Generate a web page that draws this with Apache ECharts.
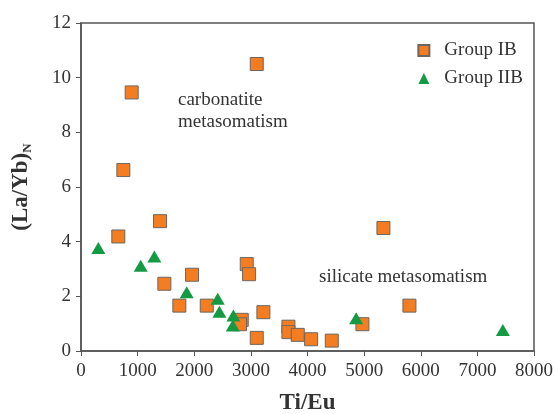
<!DOCTYPE html>
<html>
<head>
<meta charset="utf-8">
<script src="https://cdn.jsdelivr.net/npm/echarts@6/dist/echarts.min.js"></script>
<style>
  html, body { margin: 0; padding: 0; background: #fff; }
  #chart { width: 555px; height: 414px; }
</style>
</head>
<body>
<div id="chart"></div>
<script>
// Ti/Eu versus chondrite-normalised (La/Yb) for two xenolith groups
const groupIB = [
  [659, 4.19], [1396, 4.75], [1472, 2.46], [1961, 2.79], [1737, 1.66],
  [2221, 1.66], [2927, 3.18], [2968, 2.81], [3221, 1.42], [2839, 1.14],
  [2809, 0.98], [3104, 0.48], [3663, 0.89], [3663, 0.69], [3828, 0.59],
  [4064, 0.43], [4429, 0.38], [4970, 0.98], [5341, 4.50], [5800, 1.66],
  [895, 9.46], [748, 6.62], [3104, 10.50]
];
const groupIIB = [
  [306, 3.77], [1054, 3.12], [1296, 3.46], [1867, 2.15], [2415, 1.91],
  [2444, 1.44], [2691, 1.30], [2680, 0.93], [4859, 1.20], [7450, 0.77]
];
const xTicks = { min: 0, max: 8000, interval: 1000 };
const yTicks = { min: 0, max: 12, interval: 2 };

const serif = '"Liberation Serif", "DejaVu Serif", serif';
const frame = '#555';
const ink = '#333';

const chart = echarts.init(document.getElementById('chart'));
chart.setOption({
  backgroundColor: '#fff',
  animation: false,
  grid: {
    left: 81, right: 21, top: 23, bottom: 63,
    containLabel: false, outerBoundsMode: 'none',
    show: true, borderColor: frame, borderWidth: 1.5
  },
  legend: {
    orient: 'vertical', right: 27, top: 36, itemGap: 9,
    itemWidth: 11, itemHeight: 11,
    textStyle: { fontFamily: serif, fontSize: 19, color: ink, padding: [0, 0, 0, 10] },
    data: [{ name: 'Group IB', icon: 'rect' }, { name: 'Group IIB', icon: 'triangle' }]
  },
  xAxis: {
    type: 'value', min: xTicks.min, max: xTicks.max, interval: xTicks.interval,
    name: 'Ti/Eu', nameLocation: 'middle', nameGap: 41,
    nameTextStyle: { fontFamily: serif, fontSize: 23, fontWeight: 'bold', color: ink },
    axisLine: { lineStyle: { color: frame, width: 1.5 } },
    axisTick: { length: 5, lineStyle: { color: frame } },
    axisLabel: { fontFamily: serif, fontSize: 19, color: ink, margin: 11, formatter: v => String(v) },
    splitLine: { show: false }
  },
  yAxis: {
    type: 'value', min: yTicks.min, max: yTicks.max, interval: yTicks.interval,
    name: '{a|(La/Yb)}{s|N}', nameLocation: 'middle', nameGap: 47,
    nameTextStyle: {
      rich: {
        a: { fontFamily: serif, fontSize: 23, fontWeight: 'bold', color: ink },
        s: { fontFamily: serif, fontSize: 13, fontWeight: 'bold', color: ink, padding: [12, 0, 0, 0] }
      }
    },
    axisLine: { lineStyle: { color: frame, width: 1.5 } },
    axisTick: { length: 5, lineStyle: { color: frame } },
    axisLabel: { fontFamily: serif, fontSize: 19, color: ink, margin: 10 },
    splitLine: { show: false }
  },
  series: [
    {
      name: 'Group IB', type: 'scatter', symbol: 'rect', symbolSize: 13,
      itemStyle: { color: '#f47d22', borderColor: '#6f665e', borderWidth: 1, opacity: 1 },
      data: groupIB
    },
    {
      name: 'Group IIB', type: 'scatter', symbol: 'triangle', symbolSize: [14, 12],
      itemStyle: { color: '#139a43', opacity: 1 },
      data: groupIIB
    }
  ],
  graphic: [
    { type: 'text', left: 178, top: 89,
      style: { text: 'carbonatite\nmetasomatism', font: '19px ' + serif, fill: ink, lineHeight: 22 } },
    { type: 'text', left: 319, top: 268,
      style: { text: 'silicate metasomatism', font: '19px ' + serif, fill: ink } }
  ]
});
</script>
</body>
</html>
